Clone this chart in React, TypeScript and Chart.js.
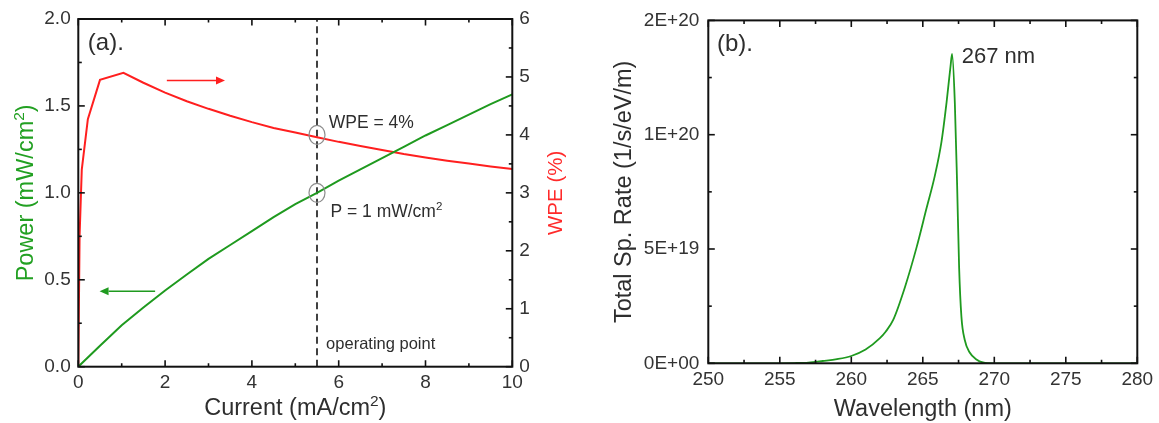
import React, { useEffect, useRef } from "react";
import { Chart, registerables } from "chart.js";

Chart.register(...registerables);

const FONT = "'Liberation Sans', Arial, Helvetica, sans-serif";
const GREEN = "#1f9a1f";
const RED = "#ff1f1f";
const INK = "#2e2e2e";

// ---------- Panel (a) data ----------
const CURRENT_P = [0, 0.5, 1, 1.5, 2, 2.5, 3, 3.5, 4, 4.5, 5, 5.5, 6, 6.5, 7, 7.5, 8, 8.5, 9, 9.5, 10];
const POWER = [0, 0.12, 0.238, 0.34, 0.438, 0.53, 0.62, 0.7, 0.78, 0.86, 0.935, 1.0, 1.07, 1.135, 1.2, 1.265, 1.33, 1.39, 1.45, 1.51, 1.566];
const CURRENT_W = [0, 0.03, 0.08, 0.22, 0.5, 1.04, 1.5, 2, 2.5, 3, 3.5, 4, 4.5, 5, 5.5, 6, 6.5, 7, 7.5, 8, 8.5, 9, 9.5, 10];
const WPE = [0, 2.27, 3.4, 4.27, 4.95, 5.07, 4.9, 4.73, 4.58, 4.45, 4.33, 4.22, 4.12, 4.04, 3.96, 3.88, 3.81, 3.74, 3.67, 3.61, 3.555, 3.505, 3.455, 3.41];
const OPERATING_CURRENT = 5.5;
const OPERATING_POWER = 1.0;
const OPERATING_WPE = 4;
const CURRENT_TICK_LABELS = ["0", "2", "4", "6", "8", "10"];
const POWER_TICK_LABELS = ["0.0", "0.5", "1.0", "1.5", "2.0"];
const WPE_TICK_LABELS = ["0", "1", "2", "3", "4", "5", "6"];

// ---------- Panel (b) data ----------
const WAVELENGTH = [250, 254, 256, 257, 258, 259, 260, 261, 262, 262.4, 262.93, 263.75, 264.56, 265.26, 265.84, 266.3, 266.66, 266.94, 267.05, 267.24, 267.4, 267.54, 267.7, 267.93, 268.28, 268.75, 269.2, 270, 280];
const SP_RATE = [0, 0, 0.1e18, 0.3e18, 1.0e18, 1.8e18, 3.2e18, 6.0e18, 1.1e19, 1.38e19, 1.9e19, 3.33e19, 5.06e19, 6.78e19, 8.2e19, 9.66e19, 1.14e20, 1.3e20, 1.353e20, 1.14e20, 7.8e19, 4.19e19, 2.04e19, 1.03e19, 4.7e18, 1.7e18, 0.4e18, 0, 0];
const WAVELENGTH_TICK_LABELS = ["250", "255", "260", "265", "270", "275", "280"];
const RATE_TICK_LABELS = ["0E+00", "5E+19", "1E+20", "2E+20"];
const PEAK_LABEL = "267 nm";

type Part = { t: string; sup?: boolean };

function drawRich(ctx: CanvasRenderingContext2D, parts: Part[], x: number, y: number, size: number, align: "left" | "center") {
  const supSize = size * 0.66;
  let total = 0;
  const widths = parts.map((p) => {
    ctx.font = `${p.sup ? supSize : size}px ${FONT}`;
    const w = ctx.measureText(p.t).width;
    total += w;
    return w;
  });
  let cx = align === "center" ? x - total / 2 : x;
  ctx.textAlign = "left";
  ctx.textBaseline = "alphabetic";
  parts.forEach((p, i) => {
    ctx.font = `${p.sup ? supSize : size}px ${FONT}`;
    ctx.fillText(p.t, cx, p.sup ? y - size * 0.4 : y);
    cx += widths[i];
  });
}

function drawRotated(ctx: CanvasRenderingContext2D, parts: Part[], baselineX: number, centerY: number, size: number, color: string) {
  ctx.save();
  ctx.translate(baselineX, centerY);
  ctx.rotate(-Math.PI / 2);
  ctx.fillStyle = color;
  drawRich(ctx, parts, 0, 0, size, "center");
  ctx.restore();
}

function tickList(min: number, max: number, minor: number, major: number) {
  const out: { v: number; major: boolean }[] = [];
  const n = Math.round((max - min) / minor);
  for (let i = 0; i <= n; i++) {
    const v = min + i * minor;
    const r = v / major;
    out.push({ v, major: Math.abs(r - Math.round(r)) < 1e-6 });
  }
  return out;
}

function drawXTicks(ctx: CanvasRenderingContext2D, scale: any, a: any, ticks: { v: number; major: boolean }[], top: boolean) {
  ticks.forEach((t) => {
    const px = scale.getPixelForValue(t.v);
    const len = t.major ? 6.5 : 3.5;
    ctx.beginPath();
    ctx.moveTo(px, a.bottom);
    ctx.lineTo(px, a.bottom - len);
    if (top) {
      ctx.moveTo(px, a.top);
      ctx.lineTo(px, a.top + len);
    }
    ctx.stroke();
  });
}

function drawYTicks(ctx: CanvasRenderingContext2D, scale: any, a: any, ticks: { v: number; major: boolean }[], side: "left" | "right") {
  ticks.forEach((t) => {
    const py = scale.getPixelForValue(t.v);
    const len = t.major ? 6.5 : 3.5;
    ctx.beginPath();
    if (side === "left") {
      ctx.moveTo(a.left, py);
      ctx.lineTo(a.left + len, py);
    } else {
      ctx.moveTo(a.right, py);
      ctx.lineTo(a.right - len, py);
    }
    ctx.stroke();
  });
}

function drawArrow(ctx: CanvasRenderingContext2D, x0: number, y0: number, x1: number, y1: number, color: string) {
  const dir = Math.sign(x1 - x0);
  const head = 9;
  ctx.strokeStyle = color;
  ctx.fillStyle = color;
  ctx.lineWidth = 1.6;
  ctx.beginPath();
  ctx.moveTo(x0, y0);
  ctx.lineTo(x1 - dir * head, y1);
  ctx.stroke();
  ctx.beginPath();
  ctx.moveTo(x1, y1);
  ctx.lineTo(x1 - dir * head, y1 - 4);
  ctx.lineTo(x1 - dir * head, y1 + 4);
  ctx.closePath();
  ctx.fill();
}

const panelAPlugin = {
  id: "panelA",
  afterDraw(chart: any) {
    const { ctx, chartArea: a, scales } = chart;
    const sx = scales.x, sy = scales.y, sy1 = scales.y1;
    ctx.save();
    ctx.strokeStyle = "#111";
    ctx.lineWidth = 2;
    ctx.strokeRect(a.left, a.top, a.right - a.left, a.bottom - a.top);
    ctx.lineWidth = 1.6;
    drawXTicks(ctx, sx, a, tickList(0, 10, 1, 2), true);
    drawYTicks(ctx, sy, a, tickList(0, 2, 0.25, 0.5), "left");
    drawYTicks(ctx, sy1, a, tickList(0, 6, 0.5, 1), "right");

    // circles at operating point
    ctx.strokeStyle = "#8c8c8c";
    ctx.lineWidth = 1.2;
    const ox = sx.getPixelForValue(OPERATING_CURRENT);
    [sy1.getPixelForValue(OPERATING_WPE), sy.getPixelForValue(OPERATING_POWER)].forEach((py: number) => {
      ctx.beginPath();
      ctx.ellipse(ox, py, 8, 9.5, 0, 0, Math.PI * 2);
      ctx.stroke();
    });

    // arrows
    drawArrow(ctx, sx.getPixelForValue(2.04), sy1.getPixelForValue(4.94), sx.getPixelForValue(3.38), sy1.getPixelForValue(4.94), RED);
    drawArrow(ctx, sx.getPixelForValue(1.77), sy.getPixelForValue(0.434), sx.getPixelForValue(0.49), sy.getPixelForValue(0.434), GREEN);

    // annotations
    ctx.fillStyle = INK;
    drawRich(ctx, [{ t: "(a)." }], sx.getPixelForValue(0.22), sy.getPixelForValue(1.873) + 8.5, 24, "left");
    drawRich(ctx, [{ t: "WPE = 4%" }], sx.getPixelForValue(5.77), sy.getPixelForValue(1.41) + 6.3, 17.5, "left");
    drawRich(ctx, [{ t: "P = 1 mW/cm" }, { t: "2", sup: true }], sx.getPixelForValue(5.81), sy.getPixelForValue(0.895) + 6.3, 17.5, "left");
    drawRich(ctx, [{ t: "operating point" }], sx.getPixelForValue(5.71), sy.getPixelForValue(0.134) + 6, 16.5, "left");

    // axis titles
    ctx.fillStyle = INK;
    drawRich(ctx, [{ t: "Current (mA/cm" }, { t: "2", sup: true }, { t: ")" }], (a.left + a.right) / 2, 415, 23.5, "center");
    drawRotated(ctx, [{ t: "Power (mW/cm" }, { t: "2", sup: true }, { t: ")" }], 33, (a.top + a.bottom) / 2, 23.5, "#22a022");
    drawRotated(ctx, [{ t: "WPE (%)" }], 562, (a.top + a.bottom) / 2, 20.5, "#ff2a2a");
    ctx.restore();
  },
};

const panelBPlugin = {
  id: "panelB",
  afterDraw(chart: any) {
    const { ctx, chartArea: a, scales } = chart;
    const sx = scales.x, sy = scales.y;
    ctx.save();
    ctx.strokeStyle = "#111";
    ctx.lineWidth = 2;
    ctx.strokeRect(a.left, a.top, a.right - a.left, a.bottom - a.top);
    ctx.lineWidth = 1.6;
    drawXTicks(ctx, sx, a, tickList(250, 280, 2.5, 5), true);
    const yt = tickList(0, 1.5e20, 2.5e19, 5e19);
    drawYTicks(ctx, sy, a, yt, "left");
    drawYTicks(ctx, sy, a, yt, "right");

    ctx.fillStyle = INK;
    drawRich(ctx, [{ t: "(b)." }], sx.getPixelForValue(250.61), sy.getPixelForValue(1.404e20) + 8.5, 24, "left");
    drawRich(ctx, [{ t: PEAK_LABEL }], sx.getPixelForValue(267.72), sy.getPixelForValue(1.349e20) + 7.9, 22, "left");

    drawRich(ctx, [{ t: "Wavelength (nm)" }], (a.left + a.right) / 2, 416, 23.5, "center");
    drawRotated(ctx, [{ t: "Total Sp. Rate (1/s/eV/m)" }], 51, (a.top + a.bottom) / 2, 23.5, INK);
    ctx.restore();
  },
};

const tickFont = { family: FONT, size: 19 };

function configA(): any {
  return {
    type: "line",
    data: {
      datasets: [
        {
          data: CURRENT_P.map((x, i) => ({ x, y: POWER[i] })),
          borderColor: GREEN,
          borderWidth: 2,
          pointRadius: 0,
          tension: 0,
          yAxisID: "y",
        },
        {
          data: CURRENT_W.map((x, i) => ({ x, y: WPE[i] })),
          borderColor: RED,
          borderWidth: 2,
          pointRadius: 0,
          tension: 0,
          yAxisID: "y1",
        },
        {
          data: [
            { x: OPERATING_CURRENT, y: 0 },
            { x: OPERATING_CURRENT, y: 2 },
          ],
          borderColor: "#111",
          borderWidth: 1.6,
          borderDash: [7, 4.5],
          pointRadius: 0,
          yAxisID: "y",
        },
      ],
    },
    options: {
      animation: false,
      responsive: false,
      events: [],
      layout: { padding: { top: 16.7, left: 0, right: 0, bottom: 0 } },
      plugins: { legend: { display: false }, tooltip: { enabled: false } },
      scales: {
        x: {
          type: "linear",
          min: 0,
          max: 10,
          grid: { display: false, drawTicks: false },
          border: { display: false },
          ticks: { stepSize: 2, padding: 5, color: "#333", font: tickFont, maxRotation: 0, callback: (_v: any, i: number) => CURRENT_TICK_LABELS[i] },
          afterFit: (s: any) => { s.height = 56.3; },
        },
        y: {
          type: "linear",
          position: "left",
          min: 0,
          max: 2,
          grid: { display: false, drawTicks: false },
          border: { display: false },
          ticks: { stepSize: 0.5, padding: 7.6, color: "#333", font: tickFont, callback: (_v: any, i: number) => POWER_TICK_LABELS[i] },
          afterFit: (s: any) => { s.width = 78.3; },
        },
        y1: {
          type: "linear",
          position: "right",
          min: 0,
          max: 6,
          grid: { display: false, drawTicks: false },
          border: { display: false },
          ticks: { stepSize: 1, padding: 7, color: "#333", font: tickFont, callback: (_v: any, i: number) => WPE_TICK_LABELS[i] },
          afterFit: (s: any) => { s.width = 67.7; },
        },
      },
    },
    plugins: [panelAPlugin],
  };
}

function configB(): any {
  return {
    type: "line",
    data: {
      datasets: [
        {
          data: WAVELENGTH.map((x, i) => ({ x, y: SP_RATE[i] })),
          borderColor: GREEN,
          borderWidth: 1.8,
          pointRadius: 0,
          cubicInterpolationMode: "monotone",
        },
      ],
    },
    options: {
      animation: false,
      responsive: false,
      events: [],
      layout: { padding: { top: 18, left: 0, right: 21.7, bottom: 0 } },
      plugins: { legend: { display: false }, tooltip: { enabled: false } },
      scales: {
        x: {
          type: "linear",
          min: 250,
          max: 280,
          grid: { display: false, drawTicks: false },
          border: { display: false },
          ticks: { stepSize: 5, padding: 5, color: "#333", font: tickFont, maxRotation: 0, callback: (_v: any, i: number) => WAVELENGTH_TICK_LABELS[i] },
          afterFit: (s: any) => { s.height = 59.7; },
        },
        y: {
          type: "linear",
          min: 0,
          max: 1.5e20,
          grid: { display: false, drawTicks: false },
          border: { display: false },
          ticks: { stepSize: 5e19, padding: 9, color: "#333", font: tickFont, callback: (_v: any, i: number) => RATE_TICK_LABELS[i] },
          afterFit: (s: any) => { s.width = 128.3; },
        },
      },
    },
    plugins: [panelBPlugin],
  };
}

function ChartCanvas({ make, left, width }: { make: () => any; left: number; width: number }) {
  const ref = useRef<HTMLCanvasElement>(null);
  useEffect(() => {
    const chart = new Chart(ref.current as HTMLCanvasElement, make());
    return () => chart.destroy();
  }, []);
  return (
    <canvas
      ref={ref}
      width={width}
      height={423}
      style={{ position: "absolute", left, top: 0, width, height: 423, display: "block" }}
    />
  );
}

export default function App() {
  return (
    <div style={{ position: "fixed", left: 0, top: 0, width: 1159, height: 423, background: "#fff", overflow: "hidden" }}>
      <ChartCanvas make={configA} left={0} width={580} />
      <ChartCanvas make={configB} left={580} width={579} />
    </div>
  );
}
